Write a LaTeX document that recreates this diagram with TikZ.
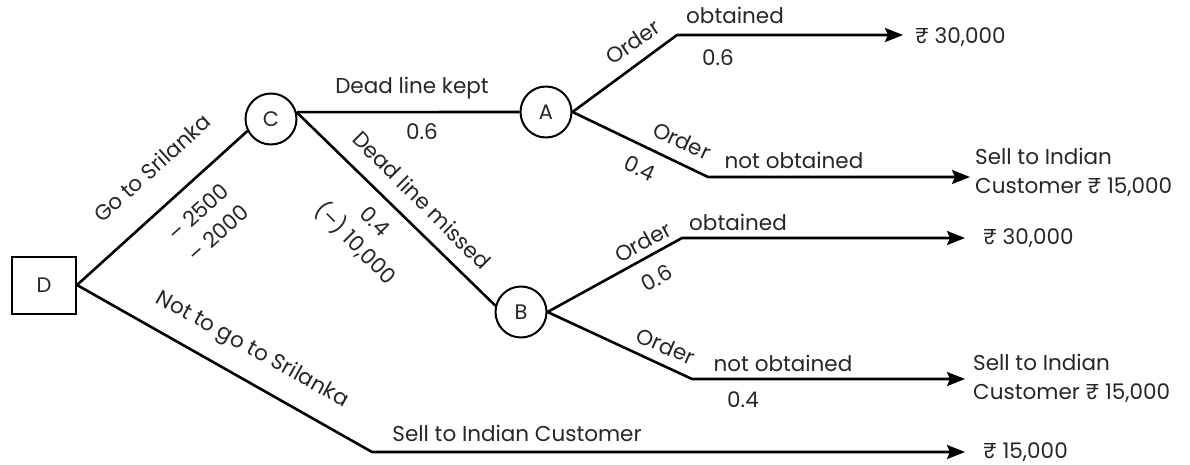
\documentclass[tikz,border=0pt]{standalone}
\usepackage{fontspec}
\setmainfont{Poppins}
\usetikzlibrary{arrows.meta}
\begin{document}
\begin{tikzpicture}[x=1pt,y=-1pt,
  lbl/.style={font=\fontsize{21.5}{29}\selectfont, inner sep=0pt, text=black!85},
  chance/.style={circle, draw, line width=2pt, minimum size=51pt, inner sep=0pt, font=\fontsize{21}{22}\selectfont, text=black!85},
  decision/.style={rectangle, draw, line width=2pt, minimum width=64pt, minimum height=57pt, inner sep=0pt, font=\fontsize{21}{22}\selectfont, text=black!85},
  br/.style={line width=2.6pt, line join=round},
  arr/.style={br, -{Stealth[length=18pt,width=14pt,inset=3pt]}}]
\useasboundingbox (0,0) rectangle (1190,465);
% decision and chance nodes
\node[decision] (D) at (44,285) {D};
\node[chance] (C) at (271,119) {C};
\node[chance] (A) at (546,112) {A};
\node[chance] (B) at (521,312) {B};
% kinks and tips
\coordinate (k1) at (677,35);  \coordinate (t1) at (903,35);
\coordinate (k2) at (708,177); \coordinate (t2) at (970,177);
\coordinate (k3) at (682,238); \coordinate (t3) at (965,238);
\coordinate (k4) at (692,379); \coordinate (t4) at (965,379);
\coordinate (k5) at (372,452); \coordinate (t5) at (965,452);
% connectors
\draw[br] (D.east) -- (C.207);
\draw[br] (C.15) -- (A.west);
\draw[br] (C.15) -- (B.166);
\draw[arr] (A.east) -- (k1) -- (t1);
\draw[arr] (A.east) -- (k2) -- (t2);
\draw[arr] (B.east) -- (k3) -- (t3);
\draw[arr] (B.east) -- (k4) -- (t4);
\draw[arr] (D.east) -- (k5) -- (t5);
% outcomes
\node[lbl, anchor=west] (v1) at (915,37) {₹ 30,000};
\node[lbl, anchor=west, align=left] (v2) at (975,172) {Sell to Indian\\Customer ₹ 15,000};
\node[lbl, anchor=west] (v3) at (983,238) {₹ 30,000};
\node[lbl, anchor=west, align=left] (v4) at (973,378) {Sell to Indian\\Customer ₹ 15,000};
\node[lbl, anchor=west] (v5) at (983,452) {₹ 15,000};
% branch labels
\node[lbl, rotate=42] (l1) at (152,168) {Go to Srilanka};
\node[lbl, rotate=42] (l2a) at (198,212) {– 2500};
\node[lbl, rotate=42] (l2b) at (218,233) {– 2000};
\node[lbl] (l3) at (412,88) {Dead line kept};
\node[lbl] (l4) at (422,132) {0.6};
\node[lbl, rotate=-45] (l5) at (422,200) {Dead line missed};
\node[lbl, rotate=-45] (l6a) at (375,221) {0.4};
\node[lbl, rotate=-45] (l6b) at (356,243) {(–) 10,000};
\node[lbl, rotate=34.3] (l7) at (633,42) {Order};
\node[lbl] (l8) at (735,15) {obtained};
\node[lbl] (l9) at (718,58) {0.6};
\node[lbl, rotate=-24.9] (l10) at (682,141) {Order};
\node[lbl] (l11) at (794,160) {not obtained};
\node[lbl, rotate=-24.9] (l12) at (640,168) {0.4};
\node[lbl, rotate=28.7] (l13) at (643,242) {Order};
\node[lbl] (l14) at (738,222) {obtained};
\node[lbl, rotate=28.7] (l15) at (657,278) {0.6};
\node[lbl, rotate=-23.5] (l16) at (666,346) {Order};
\node[lbl] (l17) at (783,363) {not obtained};
\node[lbl] (l18) at (743,400) {0.4};
\node[lbl, rotate=-29.1] (l19) at (252,350) {Not to go to Srilanka};
\node[lbl] (l20) at (517,433) {Sell to Indian Customer};
\end{tikzpicture}
\end{document}
